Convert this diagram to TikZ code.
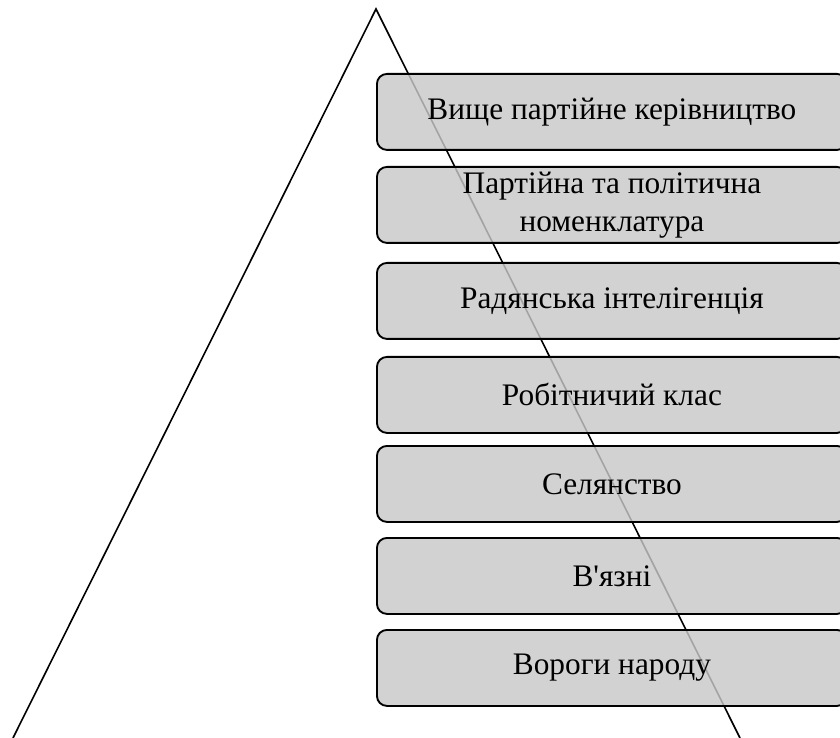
\documentclass[tikz,border=0pt]{standalone}
\usepackage{fontspec}
\setmainfont[Ligatures=TeXOff]{Liberation Serif}
\begin{document}
\begin{tikzpicture}[x=0.75pt,y=-0.75pt,
  layerbox/.style={draw=black, line width=1.4pt, rounded corners=7.5pt,
    fill={rgb,255:red,200;green,200;blue,200}, fill opacity=0.82, text opacity=1,
    minimum width=352.5pt, minimum height=57pt, inner sep=0pt, align=center,
    font=\fontsize{23.5}{28.5}\selectfont, anchor=north west},
  pyrline/.style={line width=1.2pt, line join=miter}]
\useasboundingbox (0,0) rectangle (840,738);
\clip (0,0) rectangle (840,738);
\coordinate (apex) at (376,9);
\coordinate (bl) at (13,738);
\coordinate (br) at (740,738);
\draw[pyrline] (bl) -- (apex) -- (br);
\node[layerbox] (l1) at (376,73) {Вище партійне керівництво};
\node[layerbox] (l2) at (376,166) {Партійна та політична\\номенклатура};
\node[layerbox] (l3) at (376,262) {Радянська інтелігенція};
\node[layerbox] (l4) at (376,356) {Робітничий клас};
\node[layerbox] (l5) at (376,445) {Селянство};
\node[layerbox] (l6) at (376,537) {В'язні};
\node[layerbox] (l7) at (376,629) {Вороги народу};
\end{tikzpicture}
\end{document}
